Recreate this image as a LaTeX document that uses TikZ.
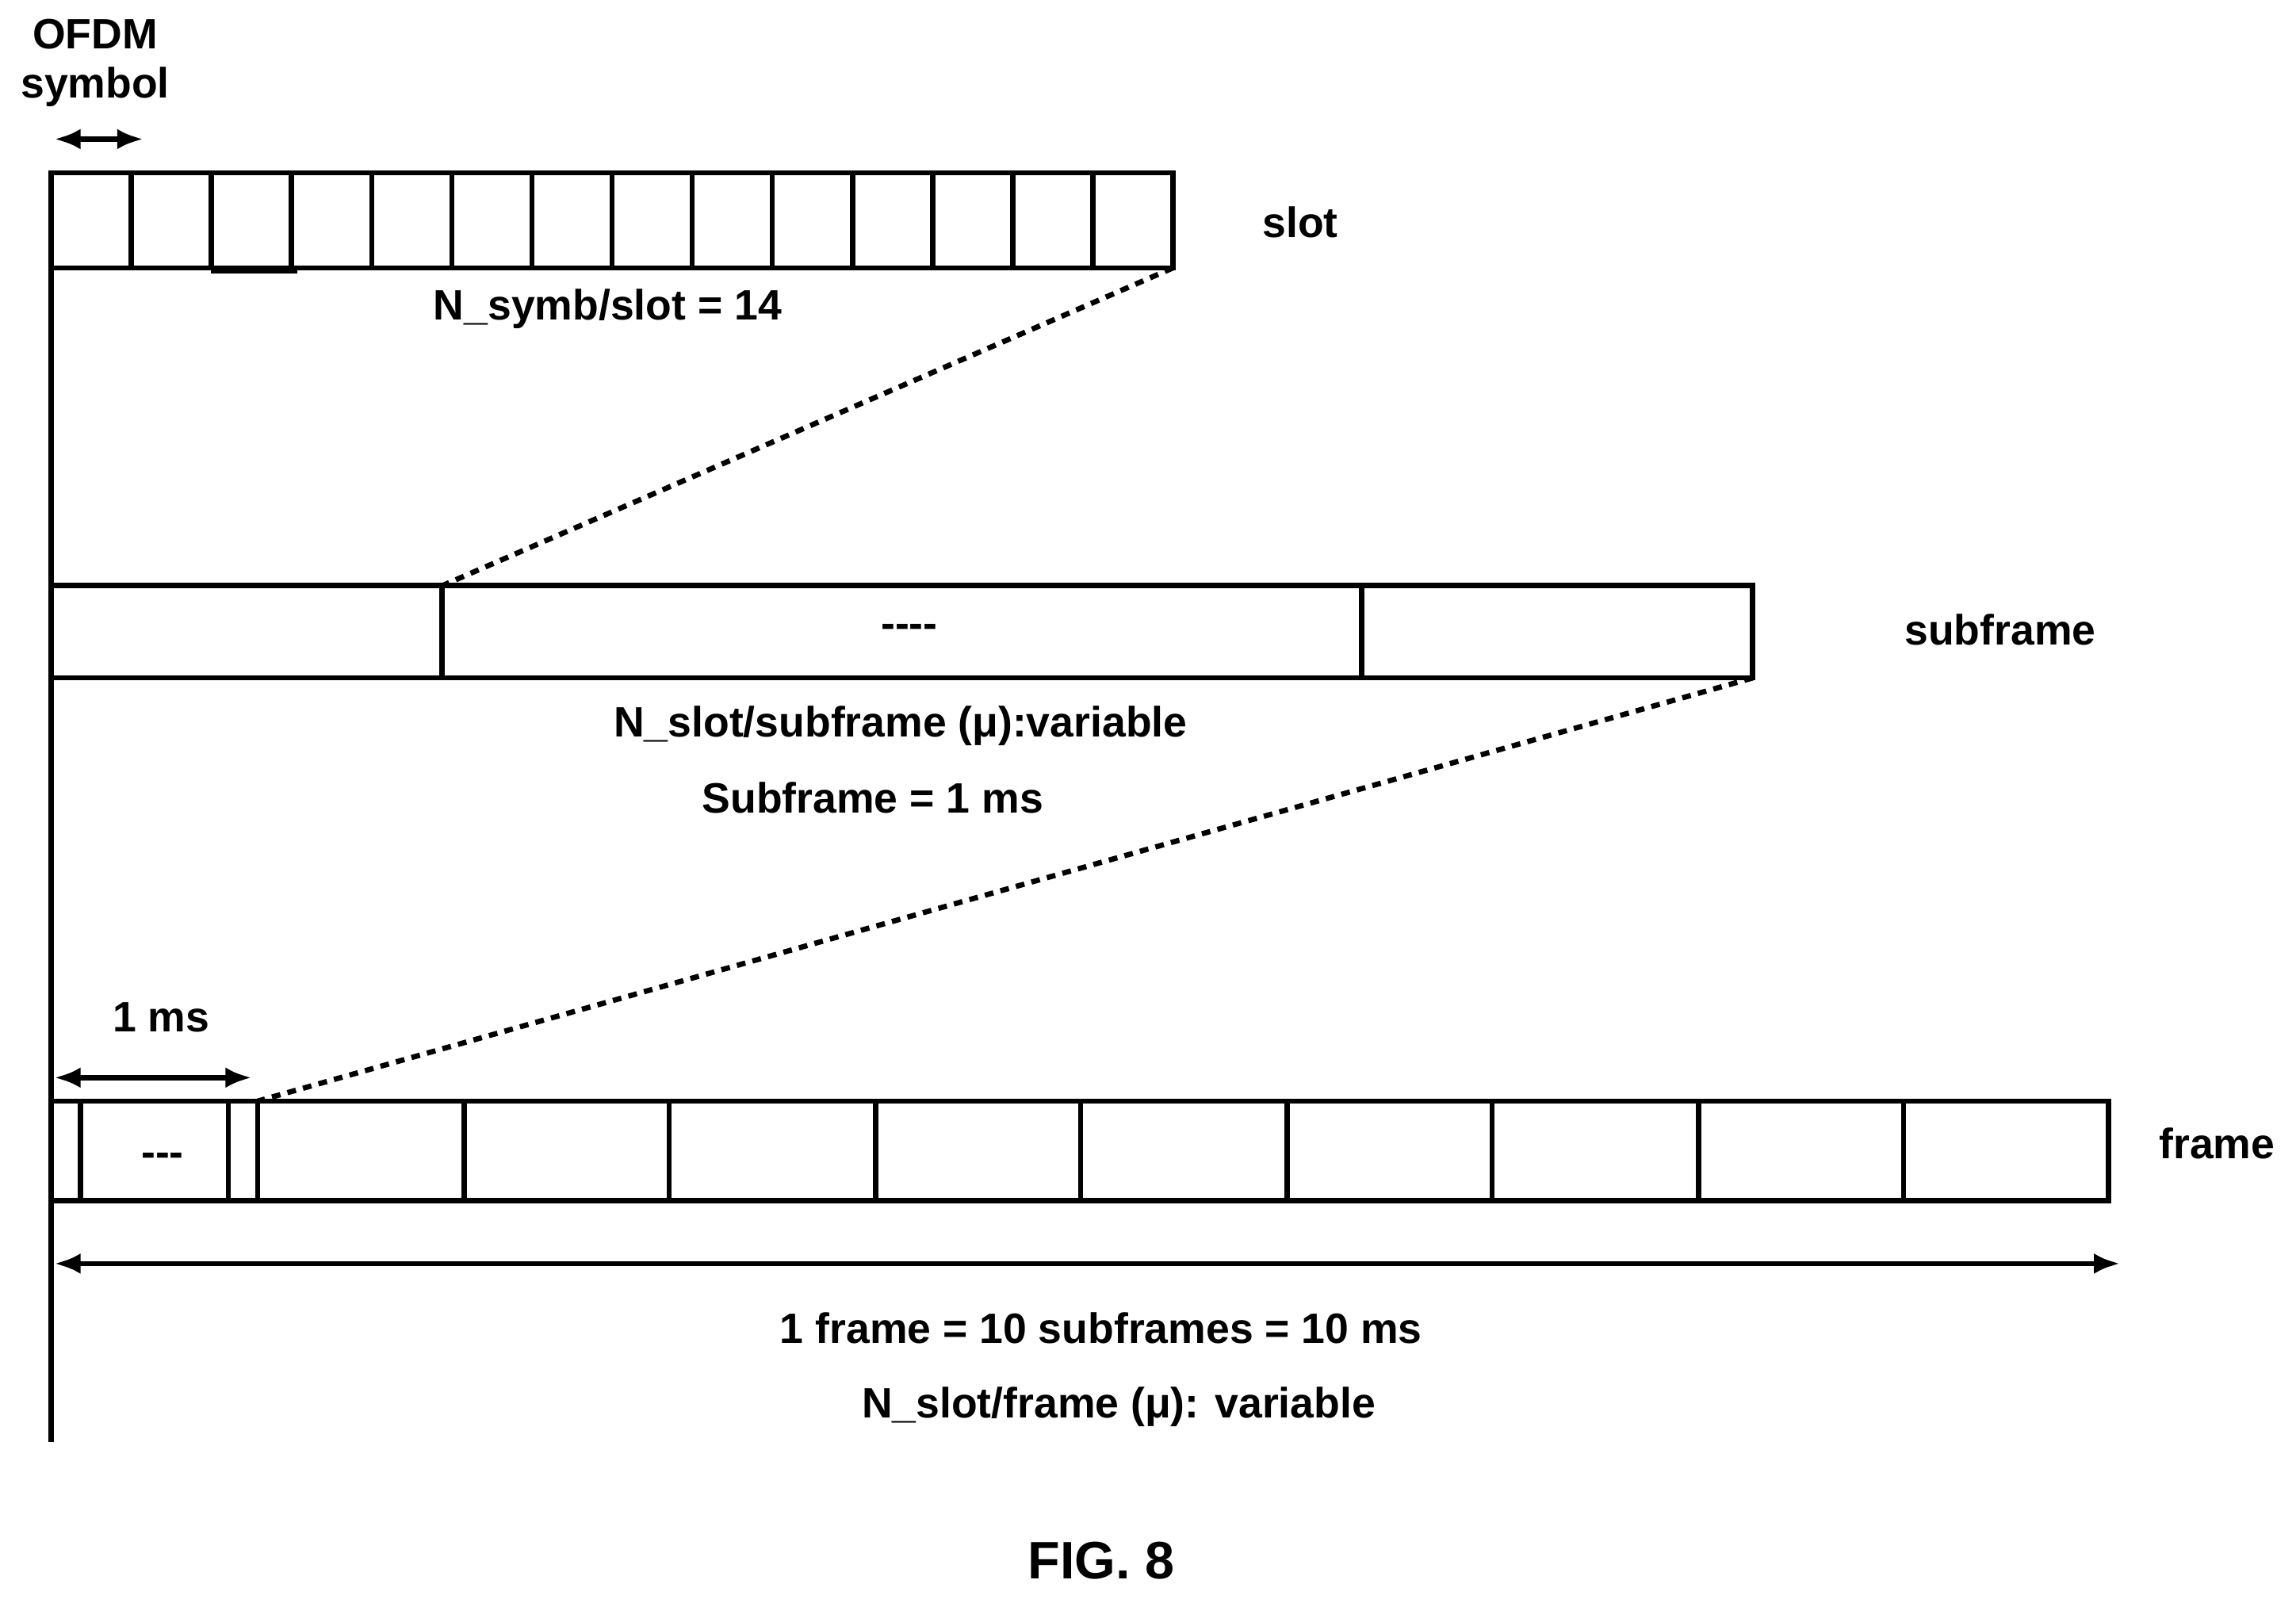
\documentclass[tikz,border=0pt]{standalone}
\usepackage{fontspec}
\setmainfont[Ligatures=NoCommon]{Liberation Sans}
\usetikzlibrary{arrows.meta}
\begin{document}
\begin{tikzpicture}[x=0.5pt,y=-0.5pt
,box/.style={draw=black,line width=1.8pt}
,dim/.style={line width=1.8pt,{Latex[length=9pt,width=7pt]}-{Latex[length=9pt,width=7pt]}}
,zoom/.style={line width=1.8pt,dash pattern=on 3pt off 2.5pt}
,lbl/.style={font=\fontsize{14.5}{17}\selectfont\bfseries,inner sep=0pt}
]
\useasboundingbox (0,0) rectangle (1568,1092);
% time axis
\draw[line width=1.8pt] (35,118) -- (35,985);
% slot
\draw[box] (35,118) rectangle (801,183);
\foreach \i in {1,...,13} \draw[box] ({35+\i*766/14},118) -- ({35+\i*766/14},183);
\draw[box] (146,183) -- (146,185) -- (201,185) -- (201,183);
\coordinate (slotSE) at (801,183);
\node[lbl,align=center] (ofdm) at (65,43) {OFDM\\symbol};
\coordinate (symA) at (37,95);
\coordinate (symB) at (98,95);
\draw[dim] (symA) -- (symB);
\node[lbl] (slotlbl) at (888,152) {slot};
\node[lbl] (nsymb) at (415,211) {N\_symb/slot = 14};
% subframe
\draw[box] (35,400) rectangle (1197,463);
\draw[box] (302,400) -- (302,463);
\draw[box] (930,400) -- (930,463);
\coordinate (sfA) at (302,400);
\coordinate (sfSE) at (1197,463);
\node[lbl] (sfdots) at (621,431) {{-}{-}{-}{-}};
\node[lbl] (sflbl) at (1366,430) {subframe};
\node[lbl] (nslot) at (615,496) {N\_slot/subframe (μ):variable};
\node[lbl] (sfms) at (596,545) {Subframe = 1 ms};
\draw[zoom] (slotSE) -- (sfA);
% frame
\draw[box] (35,752) rectangle (1440,820);
\foreach \x in {55,156,176,317,457,598,738,879,1019,1160,1300} \draw[box] (\x,752) -- (\x,820);
\coordinate (frA) at (176,752);
\draw[zoom] (sfSE) -- (frA);
\node[lbl] (frdots) at (111,792) {{-}{-}{-}};
\node[lbl] (frlbl) at (1514,781) {frame};
\coordinate (msA) at (37,736);
\coordinate (msB) at (172,736);
\draw[dim] (msA) -- (msB);
\node[lbl] (ms) at (110,695) {1 ms};
\coordinate (frL) at (37,863);
\coordinate (frR) at (1448,863);
\draw[dim] (frL) -- (frR);
\node[lbl] (frtxt) at (752,907) {1 frame = 10 subframes = 10 ms};
\node[lbl] (nslotfr) at (764,961) {N\_slot/frame (μ): variable};
\node[lbl,font=\fontsize{18}{21}\selectfont\bfseries] (fig) at (752,1066) {FIG. 8};
\end{tikzpicture}
\end{document}
